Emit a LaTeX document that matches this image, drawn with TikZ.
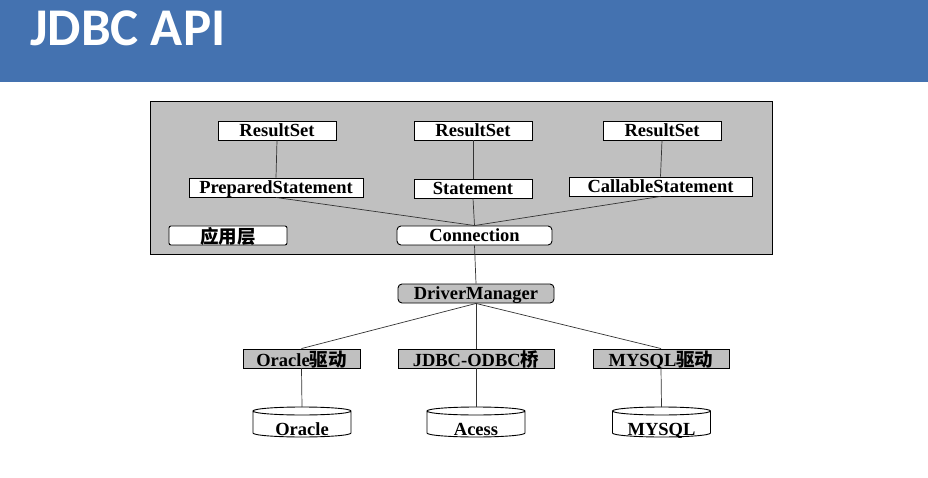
\documentclass[tikz,border=0pt]{standalone}
\usepackage{fontspec}
\setmainfont{Liberation Serif}
\newfontfamily\cjk{Noto Sans CJK SC}
\newfontfamily\titlefont{Carlito}
\definecolor{hdrblue}{RGB}{68,114,176}
\definecolor{panelgray}{RGB}{192,192,192}
\newcommand\dbcyl[4]{% name, x, top y, text
  \fill[white] (#2-49,#3+4) -- (#2-49,#3+26) arc[start angle=180,end angle=0,x radius=49,y radius=4] -- (#2+49,#3+4) arc[start angle=0,end angle=180,x radius=49,y radius=4] -- cycle;
  \draw[boxline] (#2-49,#3+4) -- (#2-49,#3+26) arc[start angle=180,end angle=0,x radius=49,y radius=4] -- (#2+49,#3+4) arc[start angle=0,end angle=-180,x radius=49,y radius=4] arc[start angle=180,end angle=0,x radius=49,y radius=4];
  \node[lbl, anchor=base] (#1) at (#2,#3+28) {#4};
  \coordinate (#1top) at (#2,#3);
}
\begin{document}
\begin{tikzpicture}[x=1pt,y=-1pt,
  lbl/.style={font=\fontsize{18.5}{20}\selectfont\bfseries, inner sep=0pt},
  boxline/.style={draw=black, line width=0.9pt},
  wbox/.style={lbl, boxline, fill=white, minimum height=19pt, text depth=0pt},
  gbox/.style={lbl, boxline, fill=panelgray, minimum height=19pt, text depth=0pt},
  conn/.style={draw=black!80, line width=0.7pt}]
\useasboundingbox (0,0) rectangle (928,478);
\fill[white] (0,0) rectangle (928,478);
% header
\fill[hdrblue] (0,0) rectangle (928,82);
\node[anchor=base west, inner sep=0pt, text=white, font=\titlefont\fontsize{53}{58}\selectfont\bfseries] (title) at (30,46) {JDBC API};
% panel
\draw[boxline, fill=panelgray] (150,101) rectangle (772,254);
% upper boxes
\node[wbox, minimum width=118pt] (rs1) at (277,130.5) {ResultSet};
\node[wbox, minimum width=118pt] (rs2) at (473,130.5) {ResultSet};
\node[wbox, minimum width=118pt] (rs3) at (662,130.5) {ResultSet};
\node[wbox, minimum width=174pt] (ps) at (276,187.5) {PreparedStatement};
\node[wbox, minimum width=118pt] (st) at (473,188.5) {Statement};
\node[wbox, minimum width=183pt] (cs) at (660.5,186.5) {CallableStatement};
\node[wbox, minimum width=118pt, rounded corners=2pt] (app) at (228,235.5) {\cjk 应用层};
\node[wbox, minimum width=155pt, rounded corners=4pt] (con) at (474.5,235.5) {Connection};
\draw[conn] (rs1.south) -- (ps.north);
\draw[conn] (rs2.south) -- (st.north);
\draw[conn] (rs3.south) -- (cs.north);
\draw[conn] (ps.south) -- (con.north);
\draw[conn] (st.south) -- (con.north);
\draw[conn] (cs.south) -- (con.north);
% driver manager
\node[gbox, minimum width=156pt, rounded corners=4pt] (dm) at (476,293.5) {DriverManager};
\draw[conn] (con.south) -- (dm.north);
% drivers
\node[gbox, minimum width=117pt] (ord) at (301.5,358.5) {Oracle{\cjk 驱动}};
\node[gbox, minimum width=156pt] (jod) at (476,358.5) {JDBC-ODBC{\cjk 桥}};
\node[gbox, minimum width=136pt] (myd) at (661,358.5) {MYSQL{\cjk 驱动}};
\draw[conn] (dm.south) -- (ord.north);
\draw[conn] (dm.south) -- (jod.north);
\draw[conn] (dm.south) -- (myd.north);
% databases
\dbcyl{oradb}{302}{407}{Oracle}
\dbcyl{accdb}{476}{407}{Acess}
\dbcyl{mydb}{661.5}{407}{MYSQL}
\draw[conn] (ord.south) -- (oradbtop);
\draw[conn] (jod.south) -- (accdbtop);
\draw[conn] (myd.south) -- (mydbtop);
\end{tikzpicture}
\end{document}
